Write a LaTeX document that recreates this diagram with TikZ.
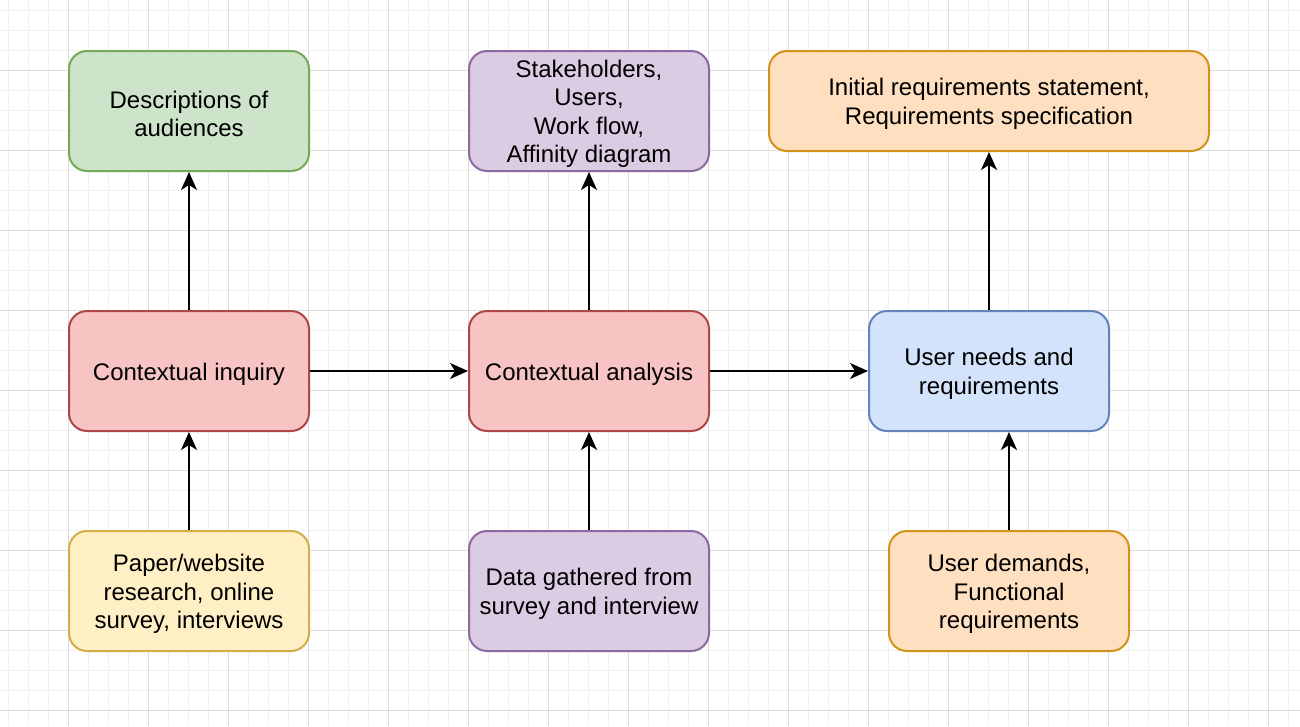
\documentclass[tikz,border=0pt]{standalone}
\usepackage{fontspec}
\setmainfont{Liberation Sans}
\usetikzlibrary{arrows.meta}
\definecolor{gfill}{HTML}{CDE4CA}\definecolor{gdraw}{HTML}{76AA58}
\definecolor{rfill}{HTML}{F7C3C3}\definecolor{rdraw}{HTML}{AE4747}
\definecolor{pfill}{HTML}{DBCBE3}\definecolor{pdraw}{HTML}{8C69A0}
\definecolor{ofill}{HTML}{FEDFC0}\definecolor{odraw}{HTML}{D19318}
\definecolor{bfill}{HTML}{D2E3FB}\definecolor{bdraw}{HTML}{6383BC}
\definecolor{yfill}{HTML}{FEF0C4}\definecolor{ydraw}{HTML}{D3AE48}
\definecolor{minorgrid}{HTML}{F0F0F0}\definecolor{majorgrid}{HTML}{DCDCDC}
\tikzset{
  box/.style={rounded corners=18pt, line width=2pt, minimum width=240pt, minimum height=120pt, inner sep=0pt},
  lbl/.style={align=center, inner sep=0pt, yshift=-3pt, font=\fontsize{24}{28.5}\selectfont},
  greenbox/.style={box, fill=gfill, draw=gdraw},
  redbox/.style={box, fill=rfill, draw=rdraw},
  purplebox/.style={box, fill=pfill, draw=pdraw},
  orangebox/.style={box, fill=ofill, draw=odraw},
  bluebox/.style={box, fill=bfill, draw=bdraw},
  yellowbox/.style={box, fill=yfill, draw=ydraw},
  conn/.style={line width=2pt, -{Stealth[length=18pt, width=16pt, inset=5pt]}},
}
\begin{document}
\begin{tikzpicture}[x=1pt, y=-1pt]
\useasboundingbox (0,0) rectangle (1300,726);
\fill[white] (0,0) rectangle (1300,726);
\foreach \gx in {8,28,...,1300} \draw[minorgrid, line width=1pt] (\gx,0) -- (\gx,726);
\foreach \gy in {10,30,...,726} \draw[minorgrid, line width=1pt] (0,\gy) -- (1300,\gy);
\foreach \gx in {68,148,...,1300} \draw[majorgrid, line width=1pt] (\gx,0) -- (\gx,726);
\foreach \gy in {70,150,...,726} \draw[majorgrid, line width=1pt] (0,\gy) -- (1300,\gy);

\node[greenbox] (desc) at (189,111) {};
\node[lbl] (descT) at (desc) {Descriptions of\\audiences};
\node[redbox] (inq) at (189,371) {};
\node[lbl] (inqT) at (inq) {Contextual inquiry};
\node[yellowbox] (paper) at (189,591) {};
\node[lbl] (paperT) at (paper) {Paper/website\\research, online\\survey, interviews};
\node[purplebox] (stake) at (589,111) {};
\node[lbl] (stakeT) at (stake) {Stakeholders,\\Users,\\Work flow,\\Affinity diagram};
\node[redbox] (ana) at (589,371) {};
\node[lbl] (anaT) at (ana) {Contextual analysis};
\node[purplebox] (data) at (589,591) {};
\node[lbl] (dataT) at (data) {Data gathered from\\survey and interview};
\node[orangebox, minimum width=440pt, minimum height=100pt] (init) at (989,101) {};
\node[lbl] (initT) at (init) {Initial requirements statement,\\Requirements specification};
\node[bluebox] (need) at (989,371) {};
\node[lbl] (needT) at (need) {User needs and\\requirements};
\node[orangebox] (dem) at (1009,591) {};
\node[lbl] (demT) at (dem) {User demands,\\Functional\\requirements};

\draw[conn] (inq.north) -- (desc.south);
\draw[conn] (paper.north) -- (inq.south);
\draw[conn] (inq.east) -- (ana.west);
\draw[conn] (ana.north) -- (stake.south);
\draw[conn] (data.north) -- (ana.south);
\draw[conn] (ana.east) -- (need.west);
\draw[conn] (need.north) -- (init.south);
\draw[conn] (dem.north) -- (dem.north |- need.south);
\end{tikzpicture}
\end{document}
